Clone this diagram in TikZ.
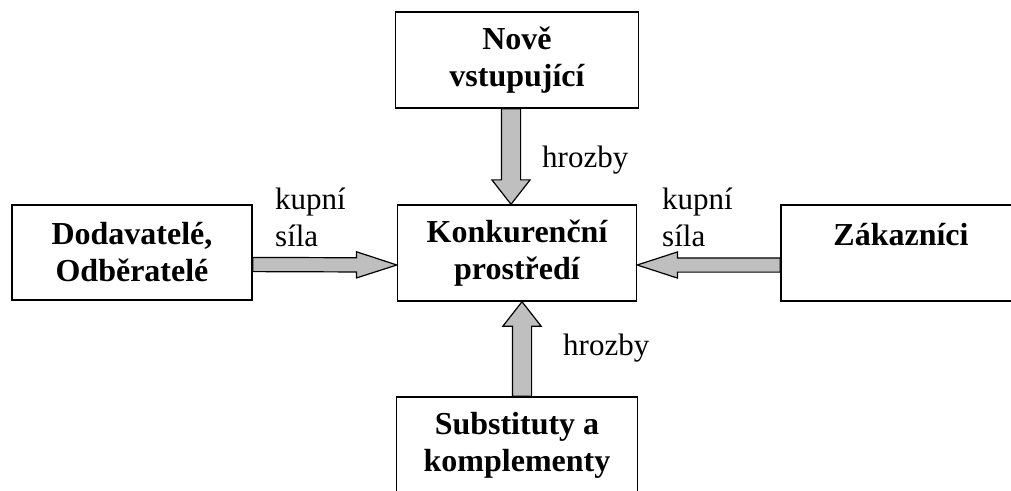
\documentclass[tikz,border=0pt]{standalone}
\usepackage{fontspec}
\setmainfont{Liberation Serif}
\usetikzlibrary{calc,shapes.arrows}

% thick grey arrow between two points: [style]{name}{from}{to}
\newcommand\fatarrow[4][]{%
  \path let \p1=($(#4)-(#3)$), \n1={veclen(\x1,\y1)}, \n2={atan2(\y1,\x1)} in
    node[fat,#1,minimum height=\n1,rotate=\n2,anchor=tail] (#2) at (#3) {};%
}

\begin{document}
\begin{tikzpicture}[
  x=1pt, y=-1pt,
  font=\fontsize{31}{36.5}\selectfont,
  box/.style={
    draw,
    fill=white,
    line width=1.4pt,
    align=center,
    inner sep=0pt,
    font=\fontsize{32}{37}\selectfont\bfseries
  },
  fat/.style={single arrow,draw,fill=gray!50,line width=1.2pt,
    inner sep=0pt,text height=0pt,text depth=0pt,outer sep=0pt},
  vfat/.style={fat,inner ysep=9pt,single arrow head extend=9.5pt,
    single arrow tip angle=76},
  hfat/.style={fat,inner ysep=6.5pt,single arrow head extend=6pt,
    single arrow tip angle=36},
  lbl/.style={align=left,anchor=base west,inner sep=0pt}
]
\useasboundingbox (0,0) rectangle (1011,490);
\clip (0,0) rectangle (1011,490);

\node[box,minimum width=243pt,minimum height=96pt] (nove) at (517,60)
  {Nově\\vstupující};
\node[box,minimum width=239pt,minimum height=96pt] (konk) at (517,253)
  {Konkurenční\\prostředí};
\node[box,minimum width=240pt,minimum height=95pt] (dodav) at (132,252.5)
  {Dodavatelé,\\Odběratelé};
\node[box,minimum width=240pt,minimum height=96pt,
  text height=22pt,text depth=38pt] (zakaz) at (901,253) {Zákazníci};
\node[box,minimum width=241pt,minimum height=96pt] (subst) at (517,445)
  {Substituty a\\komplementy};

\coordinate (nove-out) at ([xshift=-6pt]nove.south);
\coordinate (konk-top) at ([xshift=-6pt]konk.north);
\coordinate (subst-out) at ([xshift=5pt]subst.north);
\coordinate (konk-bot) at ([xshift=5pt]konk.south);
\coordinate (dodav-out) at ([yshift=-12pt]dodav.east);
\coordinate (konk-left) at ([yshift=-12pt]konk.west);
\coordinate (zakaz-out) at ([yshift=-12pt]zakaz.west);
\coordinate (konk-right) at ([yshift=-12pt]konk.east);

\fatarrow[vfat]{hrozby-top}{nove-out}{konk-top}
\fatarrow[vfat]{hrozby-bot}{subst-out}{konk-bot}
\fatarrow[hfat]{sila-left}{dodav-out}{konk-left}
\fatarrow[hfat]{sila-right}{zakaz-out}{konk-right}

\node[lbl] (kupni-l) at (275,246) {kupní\\síla};
\node[lbl] (kupni-r) at (662,246) {kupní\\síla};
\node[lbl] (hrozby-t) at (542,167) {hrozby};
\node[lbl] (hrozby-b) at (563,355) {hrozby};
\end{tikzpicture}
\end{document}
